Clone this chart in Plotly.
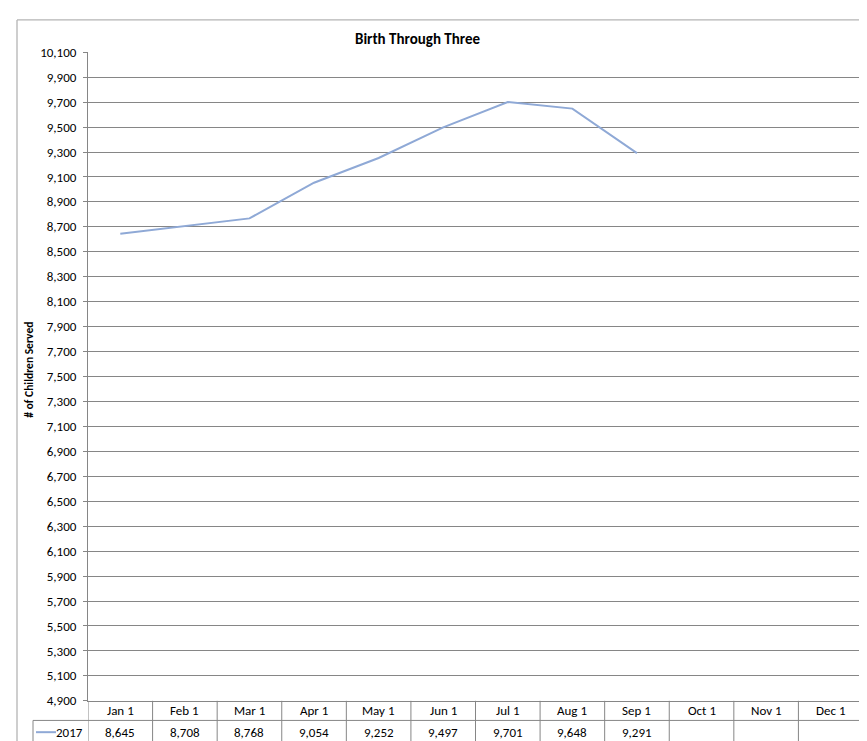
import plotly.graph_objects as go

# ---- data ----
months = ["Jan 1", "Feb 1", "Mar 1", "Apr 1", "May 1", "Jun 1",
          "Jul 1", "Aug 1", "Sep 1", "Oct 1", "Nov 1", "Dec 1"]
values_2017 = [8645, 8708, 8768, 9054, 9252, 9497, 9701, 9648, 9291, None, None, None]
series_name = "2017"
title_text = "Birth Through Three"
y_title = "# of Children Served"
y_min, y_max, y_step = 4900, 10100, 200

# ---- layout helpers (pixel -> paper) ----
W, H = 867, 741
def fx(px):
    return px / W
def fy(py):
    return 1 - py / H

PLOT_L, PLOT_R, PLOT_T, PLOT_B = 80, 855, 38, 700
ROW_SPLIT = 720
TABLE_L = 25
FONT = "Carlito, Lato, 'Open Sans', sans-serif"
TXT = 13
GRID = "#868686"
BORDER = "#B4B4B4"
LINE = "#8FA9D6"

fig = go.Figure()
fig.add_trace(go.Scatter(
    x=months, y=values_2017, mode="lines", name=series_name,
    line=dict(color=LINE, width=2), connectgaps=False, hoverinfo="x+y",
))

shapes = []
# chart-area outer border (top and left visible)
shapes.append(dict(type="line", xref="paper", yref="paper",
                   x0=fx(9), x1=fx(880), y0=fy(5), y1=fy(5),
                   line=dict(color=BORDER, width=1.3)))
shapes.append(dict(type="line", xref="paper", yref="paper",
                   x0=fx(9), x1=fx(9), y0=fy(5), y1=fy(760),
                   line=dict(color=BORDER, width=1.3)))
# data table: vertical column boundaries
for i in range(len(months) + 1):
    shapes.append(dict(type="line", xref="x", yref="paper",
                       x0=i - 0.5, x1=i - 0.5, y0=fy(PLOT_B), y1=fy(760),
                       line=dict(color=GRID, width=1)))
# horizontal split between header row and data row
shapes.append(dict(type="line", xref="paper", yref="paper",
                   x0=fx(TABLE_L), x1=fx(PLOT_R), y0=fy(ROW_SPLIT), y1=fy(ROW_SPLIT),
                   line=dict(color=GRID, width=1)))
# left box of data row
shapes.append(dict(type="line", xref="paper", yref="paper",
                   x0=fx(TABLE_L), x1=fx(TABLE_L), y0=fy(ROW_SPLIT), y1=fy(760),
                   line=dict(color=GRID, width=1)))
# legend key line
shapes.append(dict(type="line", xref="paper", yref="paper",
                   x0=fx(28), x1=fx(48), y0=fy(732), y1=fy(732),
                   line=dict(color=LINE, width=2)))

annotations = []
for i, m in enumerate(months):
    annotations.append(dict(x=i, y=fy(710), xref="x", yref="paper", text=m,
                            showarrow=False, font=dict(family=FONT, size=TXT, color="#000"),
                            xanchor="center", yanchor="middle"))
    v = values_2017[i]
    if v is not None:
        annotations.append(dict(x=i, y=fy(732), xref="x", yref="paper",
                                text=f"{v:,}", showarrow=False,
                                font=dict(family=FONT, size=TXT, color="#000"),
                                xanchor="center", yanchor="middle"))
annotations.append(dict(x=fx(48), y=fy(732), xref="paper", yref="paper", text=series_name,
                        showarrow=False, font=dict(family=FONT, size=TXT, color="#000"),
                        xanchor="left", yanchor="middle", xshift=-2))
annotations.append(dict(x=fx(410), y=fy(24), xref="paper", yref="paper",
                        text=f"<b>{title_text}</b>", showarrow=False,
                        font=dict(family=FONT, size=15, color="#000"),
                        xanchor="center", yanchor="middle"))
annotations.append(dict(x=fx(21), y=fy(362), xref="paper", yref="paper",
                        text=f"<b>{y_title}</b>", showarrow=False, textangle=-90,
                        font=dict(family=FONT, size=11.5, color="#000"),
                        xanchor="center", yanchor="middle"))

fig.update_layout(
    width=W, height=H,
    margin=dict(l=0, r=0, t=0, b=0),
    paper_bgcolor="white", plot_bgcolor="white",
    showlegend=False,
    font=dict(family=FONT, size=TXT, color="#000"),
    xaxis=dict(domain=[fx(PLOT_L), fx(PLOT_R)], type="category",
               categoryorder="array", categoryarray=months,
               range=[-0.5, len(months) - 0.5],
               showticklabels=False, showgrid=False, zeroline=False,
               showline=True, linecolor=GRID, linewidth=1, ticks=""),
    yaxis=dict(domain=[fy(PLOT_B), fy(PLOT_T)], range=[y_min, y_max],
               tick0=y_min, dtick=y_step, tickformat=",d",
               showgrid=True, gridcolor=GRID, gridwidth=1, zeroline=False,
               showline=True, linecolor=GRID, linewidth=1,
               ticks="outside", ticklen=4, tickcolor=GRID,
               ticklabelstandoff=4,
               tickfont=dict(family=FONT, size=TXT, color="#000")),
    shapes=shapes, annotations=annotations,
)

fig.write_html("out.html")
